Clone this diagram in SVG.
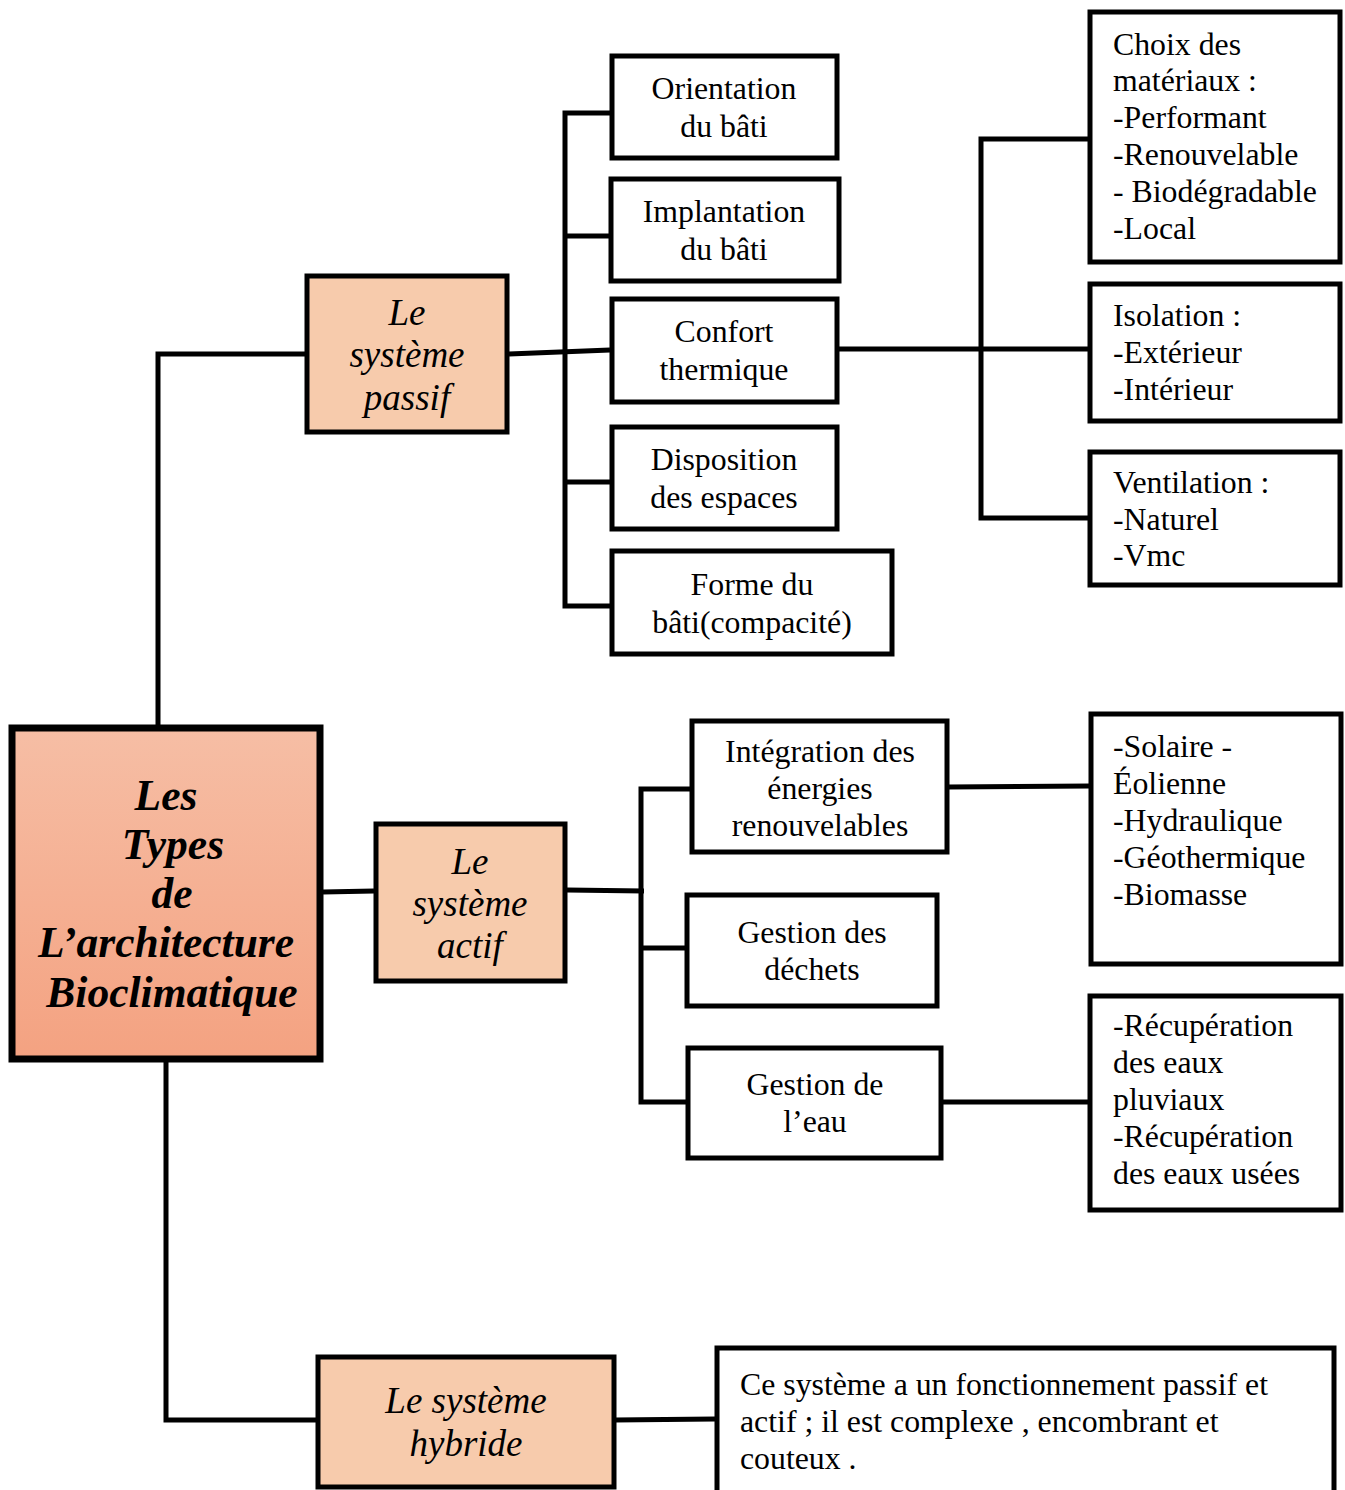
<svg xmlns="http://www.w3.org/2000/svg" width="1345" height="1490" viewBox="0 0 1345 1490">
<defs>
<linearGradient id="mainGrad" x1="0" y1="0" x2="0" y2="1">
<stop offset="0" stop-color="#F6BEA5"/>
<stop offset="1" stop-color="#F4A281"/>
</linearGradient>
<style>
.box{fill:#fff;stroke:#000;stroke-width:5}
.sys{fill:#F7CBAC;stroke:#000;stroke-width:5}
.main{fill:url(#mainGrad);stroke:#000;stroke-width:7}
.t{font-family:"Liberation Serif","Times New Roman",serif;font-size:31.8px;fill:#000}
.c{text-anchor:middle}
.si{font-family:"Liberation Serif","Times New Roman",serif;font-size:37px;font-style:italic;fill:#000;text-anchor:middle}
.mt{font-family:"Liberation Serif","Times New Roman",serif;font-size:43.5px;font-style:italic;font-weight:bold;fill:#000;text-anchor:middle}
.ln{fill:none;stroke:#000;stroke-width:5}
</style>
</defs>
<rect width="1345" height="1490" fill="#fff"/>
<g id="connectors">
<polyline class="ln" points="305,354 158,354 158,727"/>
<line class="ln" x1="509" y1="354" x2="610" y2="350"/>
<polyline class="ln" points="610,113 565,113 565,606 610,606"/>
<line class="ln" x1="565" y1="236" x2="609" y2="236"/>
<line class="ln" x1="565" y1="482" x2="610" y2="482"/>
<line class="ln" x1="838" y1="349" x2="1088" y2="349"/>
<polyline class="ln" points="1088,139 981,139 981,518 1092,518"/>
<line class="ln" x1="323" y1="892" x2="374" y2="891"/>
<line class="ln" x1="567" y1="890" x2="644" y2="891"/>
<polyline class="ln" points="690,789 641,789 641,1102 686,1102"/>
<line class="ln" x1="641" y1="948" x2="685" y2="948"/>
<line class="ln" x1="948" y1="787" x2="1090" y2="786"/>
<line class="ln" x1="942" y1="1102" x2="1089" y2="1102"/>
<polyline class="ln" points="166,1062 166,1420 316,1420"/>
<line class="ln" x1="615" y1="1420" x2="715" y2="1419"/>
</g>
<g id="main">
<rect class="main" x="12" y="728" width="308" height="331"/>
<text class="mt" x="166" y="810">Les</text>
<text class="mt" x="173" y="859">Types</text>
<text class="mt" x="172" y="908">de</text>
<text class="mt" x="166" y="957">L’architecture</text>
<text class="mt" x="172" y="1007">Bioclimatique</text>
</g>
<g id="passif">
<rect class="sys" x="307" y="276" width="200" height="156"/>
<text class="si" x="407" y="325">Le</text>
<text class="si" x="407" y="367">système</text>
<text class="si" x="407" y="410">passif</text>
</g>
<g id="actif">
<rect class="sys" x="376" y="824" width="189" height="157"/>
<text class="si" x="470" y="874">Le</text>
<text class="si" x="470" y="916">système</text>
<text class="si" x="470" y="958">actif</text>
</g>
<g id="hybride">
<rect class="sys" x="318" y="1357" width="296" height="130"/>
<text class="si" x="466" y="1413">Le système</text>
<text class="si" x="466" y="1456">hybride</text>
</g>
<g id="orientation">
<rect class="box" x="612" y="56" width="225" height="102"/>
<text class="t c" x="724" y="99">Orientation</text>
<text class="t c" x="724" y="137">du bâti</text>
</g>
<g id="implantation">
<rect class="box" x="611" y="179" width="228" height="102"/>
<text class="t c" x="724" y="222">Implantation</text>
<text class="t c" x="724" y="260">du bâti</text>
</g>
<g id="confort">
<rect class="box" x="612" y="299" width="225" height="103"/>
<text class="t c" x="724" y="342">Confort</text>
<text class="t c" x="724" y="380">thermique</text>
</g>
<g id="disposition">
<rect class="box" x="612" y="427" width="225" height="102"/>
<text class="t c" x="724" y="470">Disposition</text>
<text class="t c" x="724" y="508">des espaces</text>
</g>
<g id="forme">
<rect class="box" x="612" y="551" width="280" height="103"/>
<text class="t c" x="752" y="595">Forme du</text>
<text class="t c" x="752" y="633">bâti(compacité)</text>
</g>
<g id="materiaux">
<rect class="box" x="1090" y="12" width="250" height="250"/>
<text class="t" x="1113" y="55">Choix des</text>
<text class="t" x="1113" y="91">matériaux :</text>
<text class="t" x="1113" y="128">-Performant</text>
<text class="t" x="1113" y="165">-Renouvelable</text>
<text class="t" x="1113" y="202">- Biodégradable</text>
<text class="t" x="1113" y="239">-Local</text>
</g>
<g id="isolation">
<rect class="box" x="1090" y="284" width="250" height="137"/>
<text class="t" x="1113" y="326">Isolation :</text>
<text class="t" x="1113" y="363">-Extérieur</text>
<text class="t" x="1113" y="400">-Intérieur</text>
</g>
<g id="ventilation">
<rect class="box" x="1090" y="452" width="250" height="133"/>
<text class="t" x="1113" y="493">Ventilation :</text>
<text class="t" x="1113" y="530">-Naturel</text>
<text class="t" x="1113" y="566">-Vmc</text>
</g>
<g id="integration">
<rect class="box" x="692" y="721" width="255" height="131"/>
<text class="t c" x="820" y="762">Intégration des</text>
<text class="t c" x="820" y="799">énergies</text>
<text class="t c" x="820" y="836">renouvelables</text>
</g>
<g id="dechets">
<rect class="box" x="687" y="895" width="250" height="111"/>
<text class="t c" x="812" y="943">Gestion des</text>
<text class="t c" x="812" y="980">déchets</text>
</g>
<g id="eau">
<rect class="box" x="688" y="1048" width="253" height="110"/>
<text class="t c" x="815" y="1095">Gestion de</text>
<text class="t c" x="815" y="1132">l’eau</text>
</g>
<g id="energies">
<rect class="box" x="1091" y="714" width="250" height="250"/>
<text class="t" x="1113" y="757">-Solaire -</text>
<text class="t" x="1113" y="794">Éolienne</text>
<text class="t" x="1113" y="831">-Hydraulique</text>
<text class="t" x="1113" y="868">-Géothermique</text>
<text class="t" x="1113" y="905">-Biomasse</text>
</g>
<g id="recuperation">
<rect class="box" x="1090" y="996" width="251" height="214"/>
<text class="t" x="1113" y="1036">-Récupération</text>
<text class="t" x="1113" y="1073">des eaux</text>
<text class="t" x="1113" y="1110">pluviaux</text>
<text class="t" x="1113" y="1147">-Récupération</text>
<text class="t" x="1113" y="1184">des eaux usées</text>
</g>
<g id="description">
<rect class="box" x="717" y="1348" width="617" height="160"/>
<text class="t" x="740" y="1395">Ce système a un fonctionnement passif et</text>
<text class="t" x="740" y="1432">actif ; il est complexe , encombrant et</text>
<text class="t" x="740" y="1469">couteux .</text>
</g>
</svg>
